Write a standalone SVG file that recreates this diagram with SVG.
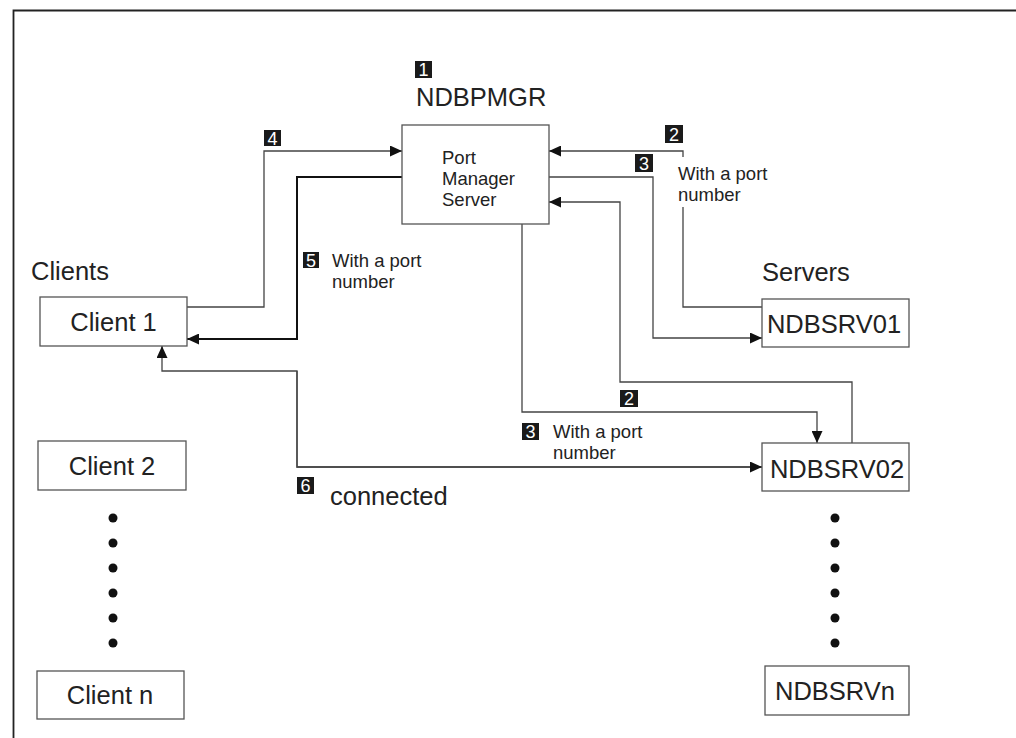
<svg xmlns="http://www.w3.org/2000/svg" width="1016" height="738" viewBox="0 0 1016 738">
<style>
  .box{fill:#fff;stroke:#555;stroke-width:1.3}
  .ln{fill:none;stroke:#444;stroke-width:1.3}
  .ln2{fill:none;stroke:#111;stroke-width:2}
  .big{font-family:"Liberation Sans",Arial,sans-serif;font-size:25.5px;fill:#222}
  .sm{font-family:"Liberation Sans",Arial,sans-serif;font-size:18.5px;fill:#222}
  .bd{fill:#1a1a1a}
  .bt{font-family:"Liberation Sans",Arial,sans-serif;font-size:18px;fill:#fff;text-anchor:middle}
  .dot{fill:#111}
</style>
<defs>
  <marker id="ah" markerUnits="userSpaceOnUse" markerWidth="12" markerHeight="11" refX="12" refY="5.5" orient="auto">
    <path d="M0,0 L12,5.5 L0,11 z" fill="#111"/>
  </marker>
</defs>
<rect width="1016" height="738" fill="#fff"/>
<path d="M13.5,738 V10.5 H1016" fill="none" stroke="#222" stroke-width="1.8"/>

<g id="connectors">
  <path class="ln" d="M187,307 H264 V151 H402" marker-end="url(#ah)"/>
  <path class="ln2" d="M402,177 H297 V339 H187" marker-end="url(#ah)"/>
  <path class="ln" d="M762,467 H297 V371 H162 V346" marker-end="url(#ah)"/>
  <path class="ln" d="M297,371 V467 H762" marker-end="url(#ah)"/>
  <path class="ln" d="M762,307 H683 V207"/>
  <path class="ln" d="M683,157 V151 H549" marker-end="url(#ah)"/>
  <path class="ln" d="M549,177 H653 V338 H762" marker-end="url(#ah)"/>
  <path class="ln" d="M852,443 V382 H620 V202 H549" marker-end="url(#ah)"/>
  <path class="ln" d="M522,224 V412 H817 V443" marker-end="url(#ah)"/>
</g>

<g id="pms">
  <rect class="box" x="402" y="125" width="147" height="99"/>
  <text class="sm" x="442" y="164">Port</text>
  <text class="sm" x="442" y="185">Manager</text>
  <text class="sm" x="442" y="206">Server</text>
</g>
<g id="ndbpmgr-label">
  <rect class="bd" x="415" y="61" width="17" height="17"/>
  <text class="bt" x="423.5" y="76">1</text>
  <text class="big" x="416" y="106">NDBPMGR</text>
</g>

<g id="client1">
  <rect class="box" x="40" y="297" width="147" height="49"/>
  <text class="big" x="113.5" y="331" text-anchor="middle">Client 1</text>
</g>
<g id="client2">
  <rect class="box" x="38" y="441" width="148" height="49"/>
  <text class="big" x="112" y="475" text-anchor="middle">Client 2</text>
</g>
<g id="clientn">
  <rect class="box" x="37" y="671" width="147" height="48"/>
  <text class="big" x="110" y="704" text-anchor="middle">Client n</text>
</g>
<g id="srv01">
  <rect class="box" x="762" y="299" width="147" height="48"/>
  <text class="big" x="834" y="333" text-anchor="middle">NDBSRV01</text>
</g>
<g id="srv02">
  <rect class="box" x="762" y="443" width="147" height="48"/>
  <text class="big" x="837" y="478" text-anchor="middle">NDBSRV02</text>
</g>
<g id="srvn">
  <rect class="box" x="765" y="666" width="144" height="49"/>
  <text class="big" x="835" y="700" text-anchor="middle">NDBSRVn</text>
</g>

<g id="labels">
  <text class="big" x="31" y="280">Clients</text>
  <text class="big" x="762" y="281">Servers</text>

  <rect class="bd" x="264" y="130" width="17" height="16"/>
  <text class="bt" x="272.5" y="144.5">4</text>

  <rect class="bd" x="665" y="125" width="18" height="18"/>
  <text class="bt" x="674" y="140.5">2</text>
  <rect class="bd" x="635" y="154" width="18" height="18"/>
  <text class="bt" x="644" y="169.5">3</text>
  <text class="sm" x="678" y="180">With a port</text>
  <text class="sm" x="678" y="201">number</text>

  <rect class="bd" x="303" y="252" width="16" height="16"/>
  <text class="bt" x="311" y="266.5">5</text>
  <text class="sm" x="332" y="267">With a port</text>
  <text class="sm" x="332" y="288">number</text>

  <rect class="bd" x="620" y="390" width="18" height="17"/>
  <text class="bt" x="629" y="405">2</text>
  <rect class="bd" x="522" y="423" width="17" height="17"/>
  <text class="bt" x="530.5" y="438">3</text>
  <text class="sm" x="553" y="438">With a port</text>
  <text class="sm" x="553" y="459">number</text>

  <rect class="bd" x="297" y="477" width="17" height="17"/>
  <text class="bt" x="305.5" y="492">6</text>
  <text class="big" x="330" y="505">connected</text>
</g>

<g id="dots-clients">
  <circle class="dot" cx="113" cy="518" r="4.5"/>
  <circle class="dot" cx="113" cy="543" r="4.5"/>
  <circle class="dot" cx="113" cy="568" r="4.5"/>
  <circle class="dot" cx="113" cy="593" r="4.5"/>
  <circle class="dot" cx="113" cy="618" r="4.5"/>
  <circle class="dot" cx="113" cy="643" r="4.5"/>
</g>
<g id="dots-servers">
  <circle class="dot" cx="835" cy="518" r="4.5"/>
  <circle class="dot" cx="835" cy="543" r="4.5"/>
  <circle class="dot" cx="835" cy="568" r="4.5"/>
  <circle class="dot" cx="835" cy="593" r="4.5"/>
  <circle class="dot" cx="835" cy="618" r="4.5"/>
  <circle class="dot" cx="835" cy="643" r="4.5"/>
</g>
</svg>
